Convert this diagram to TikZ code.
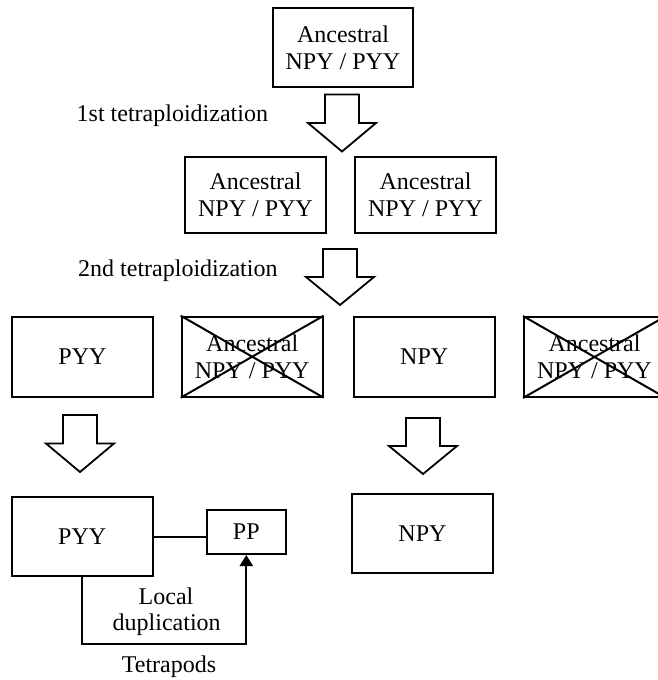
\documentclass[tikz,border=0pt]{standalone}
\usepackage{fontspec}
\setmainfont{Liberation Serif}
\usetikzlibrary{arrows.meta}
\newcommand{\blockarr}[3]{% center x, top y, tip y
  \draw[blockarrow] (#1-17,#2) -- (#1+17,#2) -- (#1+17,{(#2+#3)/2}) -- (#1+34,{(#2+#3)/2})
    -- (#1,#3) -- (#1-34,{(#2+#3)/2}) -- (#1-17,{(#2+#3)/2}) -- cycle;}
\begin{document}
\begin{tikzpicture}[x=1pt,y=-1pt,
  every node/.style={font=\fontsize{24}{26.7}\selectfont},
  box/.style={draw, line width=2pt, minimum width=141pt, minimum height=79pt, align=center, inner sep=0pt},
  smallbox/.style={draw, line width=2pt, minimum width=79pt, minimum height=44pt, align=center, inner sep=0pt},
  blockarrow/.style={draw, line width=1.8pt, fill=white, line join=miter},
  cross/.style={line width=2pt},
  conn/.style={line width=2pt}]
\useasboundingbox (0,0) rectangle (657,680);
% top
\node[box, minimum width=140pt] (top) at (343,47.5) {Ancestral\\NPY / PYY};
\blockarr{342}{94.5}{151.5}
\node[anchor=base west, inner sep=0pt] (lab1) at (76.5,121.5) {1st tetraploidization};
% row 2
\node[box, minimum height=76pt] (a1) at (255.5,195) {Ancestral\\NPY / PYY};
\node[box, minimum height=76pt] (a2) at (425.5,195) {Ancestral\\NPY / PYY};
\blockarr{340}{249}{305}
\node[anchor=base west, inner sep=0pt] (lab2) at (78,276.7) {2nd tetraploidization};
% row 3
\node[box, minimum height=80pt] (pyy1) at (82.5,356.7) {PYY};
\node[box, minimum height=80pt] (x1) at (252.2,356.7) {Ancestral\\NPY / PYY};
\draw[cross] (x1.north west) -- (x1.south east) (x1.south west) -- (x1.north east);
\node[box, minimum height=80pt] (npy1) at (424.2,356.7) {NPY};
\node[box, minimum height=80pt] (x2) at (594.5,357) {Ancestral\\NPY / PYY};
\draw[cross] (x2.north west) -- (x2.south east) (x2.south west) -- (x2.north east);
\blockarr{80}{415}{472}
\blockarr{423}{418}{474}
% row 4
\node[box, minimum height=78.7pt] (pyy2) at (82.2,536.7) {PYY};
\node[smallbox] (pp) at (246.3,532) {PP};
\node[box, minimum height=79.3pt] (npy2) at (422.5,533.7) {NPY};
\draw[conn] (pyy2.east) -- (pyy2.east -| pp.west);
\coordinate (low) at (0,644);
\draw[conn, -{Triangle[length=11pt,width=13pt]}] (pyy2.south) -- (pyy2.south |- low) -| (pp.south);
\node[anchor=base, inner sep=0pt] (loc1) at (166,604) {Local};
\node[anchor=base, inner sep=0pt] (loc2) at (166.7,630) {duplication};
\node[anchor=base, inner sep=0pt] (tet) at (169,672.7) {Tetrapods};
\end{tikzpicture}
\end{document}
